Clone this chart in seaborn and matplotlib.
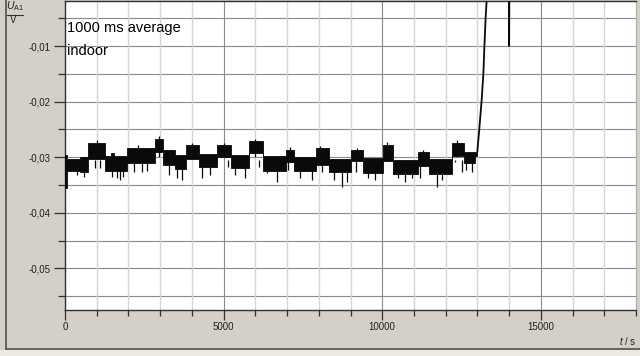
import matplotlib
matplotlib.use("Agg")
import matplotlib.pyplot as plt
from matplotlib.lines import Line2D
from matplotlib.patches import Rectangle
from matplotlib.ticker import FixedLocator, FixedFormatter
import seaborn as sns

# ---------------- data ----------------
# noise band: segments of the ~constant signal, (start s, end s, upper V, lower V)
seg_start = [0, 50, 480, 740, 1270, 1450, 1560, 1960, 2850, 3100, 3480, 3800, 4210,
             4800, 5220, 5790, 6230, 6960, 7220, 7910, 8320, 9020, 9400, 10030,
             10350, 11140, 11490, 12190, 12570, 12910]
seg_end = seg_start[1:] + [13000]
seg_top = [-0.0296, -0.0303, -0.0300, -0.0275, -0.0298, -0.0293, -0.0298, -0.0284,
           -0.0267, -0.0287, -0.0296, -0.0278, -0.0294, -0.0278, -0.0296, -0.0271,
           -0.0298, -0.0287, -0.0300, -0.0284, -0.0303, -0.0287, -0.0302, -0.0278,
           -0.0305, -0.0291, -0.0303, -0.0275, -0.0291, -0.0290]
seg_bottom = [-0.0355, -0.0325, -0.0327, -0.0303, -0.0325, -0.0325, -0.0325, -0.0310,
              -0.0291, -0.0314, -0.0321, -0.0303, -0.0318, -0.0300, -0.0319, -0.0292,
              -0.0325, -0.0309, -0.0325, -0.0314, -0.0327, -0.0307, -0.0328, -0.0307,
              -0.0330, -0.0316, -0.0330, -0.0298, -0.0310, -0.0298]

# downward noise spikes (time s, lowest value V)
spike_t = [378, 600, 946, 1103, 1481, 1639, 1734, 1830, 2175, 2427, 2585, 3278, 3530,
           3700, 4318, 4570, 5140, 5358, 5674, 6115, 6367, 6682, 7029, 7407, 7785,
           8100, 8479, 8731, 8888, 9172, 9550, 9771, 10496, 10717, 10937, 11190,
           11725, 11883, 12293, 12500, 12640, 12829]
spike_v = [-0.0332, -0.0336, -0.0320, -0.0320, -0.0336, -0.0338, -0.0341, -0.0336,
           -0.0327, -0.0327, -0.0325, -0.0332, -0.0338, -0.0341, -0.0338, -0.0332,
           -0.0318, -0.0332, -0.0338, -0.0318, -0.0329, -0.0345, -0.0323, -0.0338,
           -0.0341, -0.0327, -0.0341, -0.0354, -0.0345, -0.0327, -0.0338, -0.0341,
           -0.0338, -0.0345, -0.0338, -0.0338, -0.0354, -0.0341, -0.0309, -0.0327,
           -0.0323, -0.0327]

# upward noise spikes (time s, highest value V)
up_t = [1000, 2300, 2950, 4000, 5000, 6000, 7100, 8050, 9200, 10150, 11300, 12350]
up_v = [-0.0270, -0.0278, -0.0262, -0.0274, -0.0274, -0.0267, -0.0282, -0.0280,
        -0.0283, -0.0273, -0.0287, -0.0270]

# steep rise and the single dip at 14000 s
rise_t = [13000, 13008, 13049, 13135, 13189, 13220, 13261, 13293, 13330, 13990, 14000, 14010]
rise_v = [-0.0290, -0.0282, -0.0257, -0.0197, -0.0149, -0.0102, -0.0048, -0.0017,
          0.0030, 0.0030, -0.0100, 0.0030]

y_major = [-0.01, -0.02, -0.03, -0.04, -0.05]
y_major_labels = ["-0,01", "-0,02", "-0,03", "-0,04", "-0,05"]
y_minor = [-0.005, -0.015, -0.025, -0.035, -0.045, -0.055]
x_major = [0, 5000, 10000, 15000]
x_major_labels = ["0", "5000", "10000", "15000"]
x_minor = [1000, 2000, 3000, 4000, 6000, 7000, 8000, 9000, 11000, 12000, 13000,
           14000, 16000, 17000, 18000]

# ---------------- style ----------------
sns.set_style("white")
plt.rcParams["font.family"] = ["Liberation Sans", "DejaVu Sans"]
plt.rcParams["mathtext.fontset"] = "custom"
plt.rcParams["mathtext.rm"] = "Liberation Sans"
plt.rcParams["mathtext.it"] = "Liberation Sans:italic"

W, H = 640, 356
BG = "#d4d0c8"
INK = "#0a0a0a"
fig = plt.figure(figsize=(6.4, 3.56), dpi=100, facecolor=BG)

# window frame decorations
fig.add_artist(Rectangle((0, 0), 1, 6 / H, transform=fig.transFigure,
                         facecolor="#ece9e0", edgecolor="none", zorder=0))
fig.add_artist(Line2D([6 / W, 1], [1 - 349 / H] * 2, color="#505050", lw=1.2))
fig.add_artist(Line2D([6 / W, 6 / W], [1 - 349 / H, 1], color="#505050", lw=1.2))

ax = fig.add_axes([65 / W, 1 - 310 / H, 571 / W, 309 / H])
ax.set_facecolor("white")
ax.set_xlim(0, 18000)
ax.set_ylim(-0.0575, -0.0019)

# grid
for v in y_major + y_minor:
    ax.axhline(v, color="#8a8a8a", lw=0.8, zorder=1)
for t in x_minor:
    ax.axvline(t, color="#d6d6d6", lw=1.0, zorder=1)
for t in x_major[1:]:
    ax.axvline(t, color="#8a8a8a", lw=0.8, zorder=1)

# noise band
bt = seg_start + [seg_end[-1]]
btop = seg_top + [seg_top[-1]]
bbot = seg_bottom + [seg_bottom[-1]]
ax.fill_between(bt, bbot, btop, step="post", color=INK, lw=0.6,
                edgecolor=INK, zorder=3)
ax.vlines(spike_t, spike_v, [-0.0305] * len(spike_t), color=INK, lw=0.9, zorder=3)
ax.vlines(up_t, [-0.0300] * len(up_t), up_v, color=INK, lw=0.9, zorder=3)

sns.lineplot(x=rise_t, y=rise_v, color=INK, lw=1.3, ax=ax, sort=False,
             estimator=None, zorder=4)

# ticks
ax.yaxis.set_major_locator(FixedLocator(y_major))
ax.yaxis.set_major_formatter(FixedFormatter(y_major_labels))
ax.yaxis.set_minor_locator(FixedLocator(y_minor))
ax.xaxis.set_major_locator(FixedLocator(x_major))
ax.xaxis.set_major_formatter(FixedFormatter(x_major_labels))
ax.xaxis.set_minor_locator(FixedLocator(x_minor))
ax.tick_params(axis="y", which="major", direction="out", length=8, width=0.9,
               color="#303030", labelsize=7, labelcolor="#202020", pad=2.5, left=True)
ax.tick_params(axis="y", which="minor", direction="out", length=5, width=0.9,
               color="#303030", left=True)
ax.tick_params(axis="x", which="major", direction="out", length=7.5, width=0.9,
               color="#303030", labelsize=7, labelcolor="#202020", pad=1.5, bottom=True)
ax.tick_params(axis="x", which="minor", direction="out", length=4.5, width=0.9,
               color="#303030", bottom=True)
ax.set_xlabel("")
ax.set_ylabel("")

for s in ["left", "bottom", "top"]:
    ax.spines[s].set_visible(True)
    ax.spines[s].set_color("#303030")
    ax.spines[s].set_linewidth(1.0)
ax.spines["right"].set_visible(True)
ax.spines["right"].set_color("#b0b0b0")
ax.spines["right"].set_linewidth(0.8)

# annotations
fig.text(67 / W, 1 - 32 / H, "1000 ms average", fontsize=10.5, color="black", va="baseline")
fig.text(67 / W, 1 - 55 / H, "indoor", fontsize=10.5, color="black", va="baseline")

# axis labels (fraction style)
fig.text(15 / W, 1 - 9.5 / H, r"$U_{\mathrm{A1}}$", fontsize=7.5, color="#202020",
         ha="center", va="baseline")
fig.add_artist(Line2D([7 / W, 23 / W], [1 - 14.5 / H] * 2, color="#303030", lw=0.8))
fig.text(13.5 / W, 1 - 23 / H, "V", fontsize=7, color="#202020", ha="center", va="baseline")
fig.text(636 / W, 1 - 345 / H, r"$t$ / s", fontsize=7, color="#202020",
         ha="right", va="baseline")

fig.savefig("out.png", dpi=100, facecolor=BG)
